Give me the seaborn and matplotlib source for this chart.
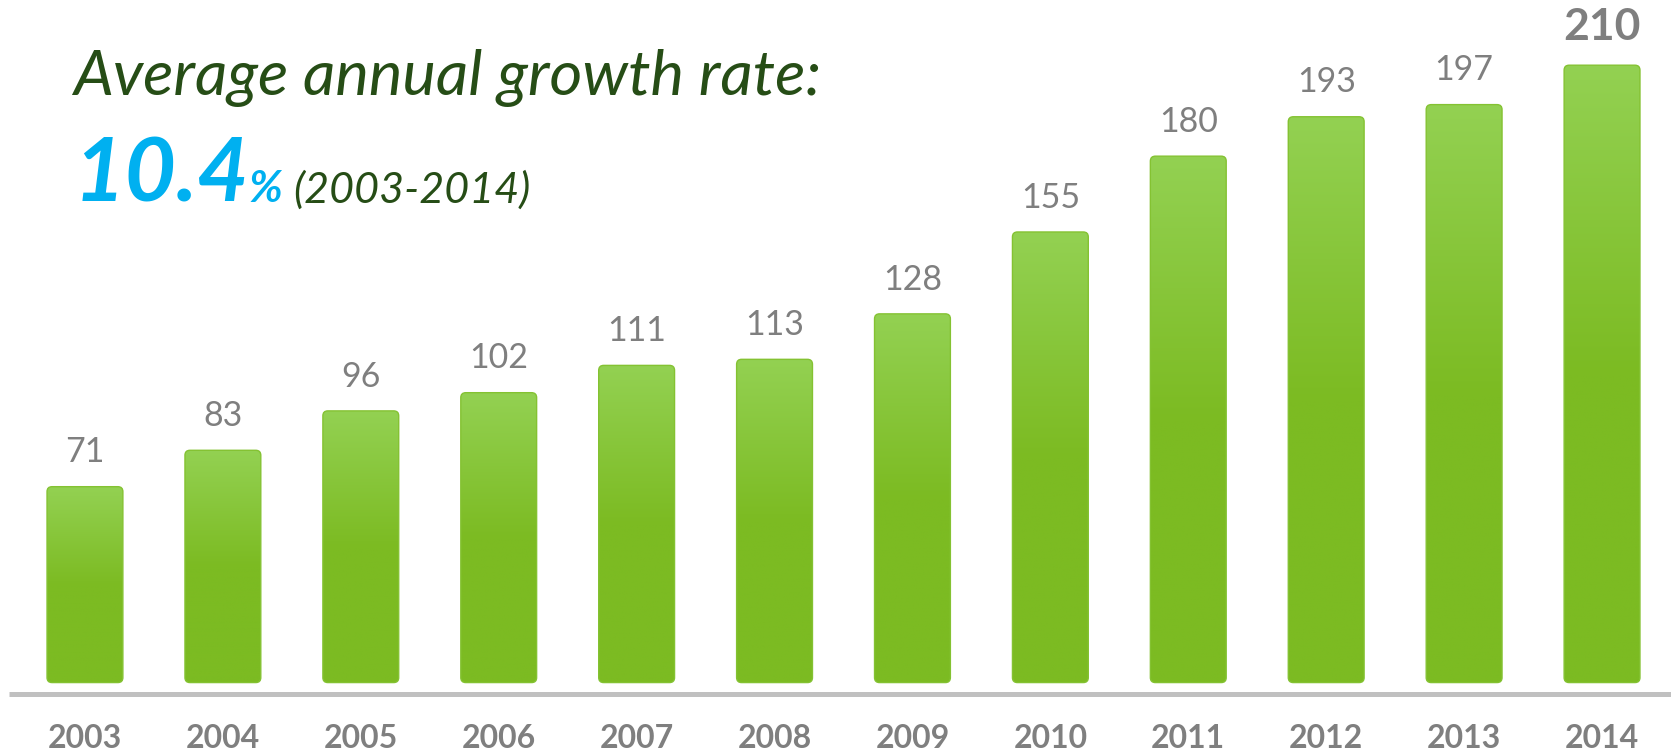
import numpy as np
import pandas as pd
import matplotlib
matplotlib.use("Agg")
import matplotlib.pyplot as plt
import seaborn as sns
from matplotlib.patches import FancyBboxPatch
from matplotlib.lines import Line2D
from matplotlib.colors import LinearSegmentedColormap

# ---- data ----
years = ["2003", "2004", "2005", "2006", "2007", "2008",
         "2009", "2010", "2011", "2012", "2013", "2014"]
values = [71, 83, 96, 102, 111, 113, 128, 155, 180, 193, 197, 210]
headline = "Average annual growth rate:"
rate_number = "10.4"
rate_unit = "%"
period = "(2003-2014)"

# ---- style ----
sns.set_theme(style="white")
plt.rcParams["font.family"] = ["Lato", "DejaVu Sans"]

W, H = 1671, 752
fig = plt.figure(figsize=(W / 100, H / 100), dpi=100)
ax = fig.add_axes([0, 0, 1, 1])

df = pd.DataFrame({"year": years, "value": values})
sns.barplot(data=df, x="year", y="value", ax=ax, width=0.55,
            color="#7CBB22", saturation=1)

XL = (-0.616, 11.5)
YL = (-16.5, 231.5)
ax.set_xlim(*XL)
ax.set_ylim(*YL)
ax.axis("off")

px_x = W / (XL[1] - XL[0])
px_y = H / (YL[1] - YL[0])
base = 6.4                      # visible bottom of the bars
r = 5 / px_x
asp = px_x / px_y

cmap = LinearSegmentedColormap.from_list(
    "g", [(0, "#7CBB22"), (0.5, "#7CBB22"), (1, "#93D152")])
grad = np.linspace(0, 1, 256).reshape(-1, 1)

gray = "#7F7F7F"
bars = list(ax.patches)
n = len(bars)
for i, p in enumerate(bars):
    x0, w, h = p.get_x(), p.get_width(), p.get_height()
    p.set_visible(False)
    box = FancyBboxPatch((x0, base), w, h - base,
                         boxstyle=f"round,pad=0,rounding_size={r}",
                         mutation_aspect=asp, fc="none", ec="#84C232",
                         lw=1.0, zorder=3)
    ax.add_patch(box)
    im = ax.imshow(grad, cmap=cmap, origin="lower", aspect="auto",
                   extent=[x0, x0 + w, base, h], zorder=2)
    im.set_clip_path(box)
    last = i == n - 1
    ax.annotate(f"{h:.0f}", (x0 + w / 2, h), xytext=(0, 18 if last else 17.5),
                textcoords="offset points", ha="center", va="baseline",
                fontsize=32 if last else 24.5,
                fontweight="bold" if last else "normal", color=gray)
    ax.annotate(years[i], (x0 + w / 2, 4), xycoords=("data", "figure pixels"),
                ha="center", va="baseline", fontsize=23,
                fontweight="bold", color=gray)

ax.set_xlim(*XL)
ax.set_ylim(*YL)

fig.add_artist(Line2D([9 / W, 1], [58.5 / H] * 2, transform=fig.transFigure,
                      lw=3.6, color="#C0C0C0", solid_capstyle="butt"))

green = "#264D16"
fig.text(73 / W, 1 - 95 / H, headline, fontsize=45.5, style="italic",
         color=green, va="baseline", ha="left")
fig.text(74 / W, 1 - 202 / H, rate_number, fontsize=64, style="italic",
         fontweight="bold", color="#00B0F0", va="baseline", ha="left")
fig.text(249 / W, 1 - 202 / H, rate_unit, fontsize=32, style="italic",
         fontweight="bold", color="#00B0F0", va="baseline", ha="left")
fig.text(293 / W, 1 - 203 / H, period, fontsize=31, style="italic",
         color=green, va="baseline", ha="left")

fig.savefig("out.png", dpi=100)
